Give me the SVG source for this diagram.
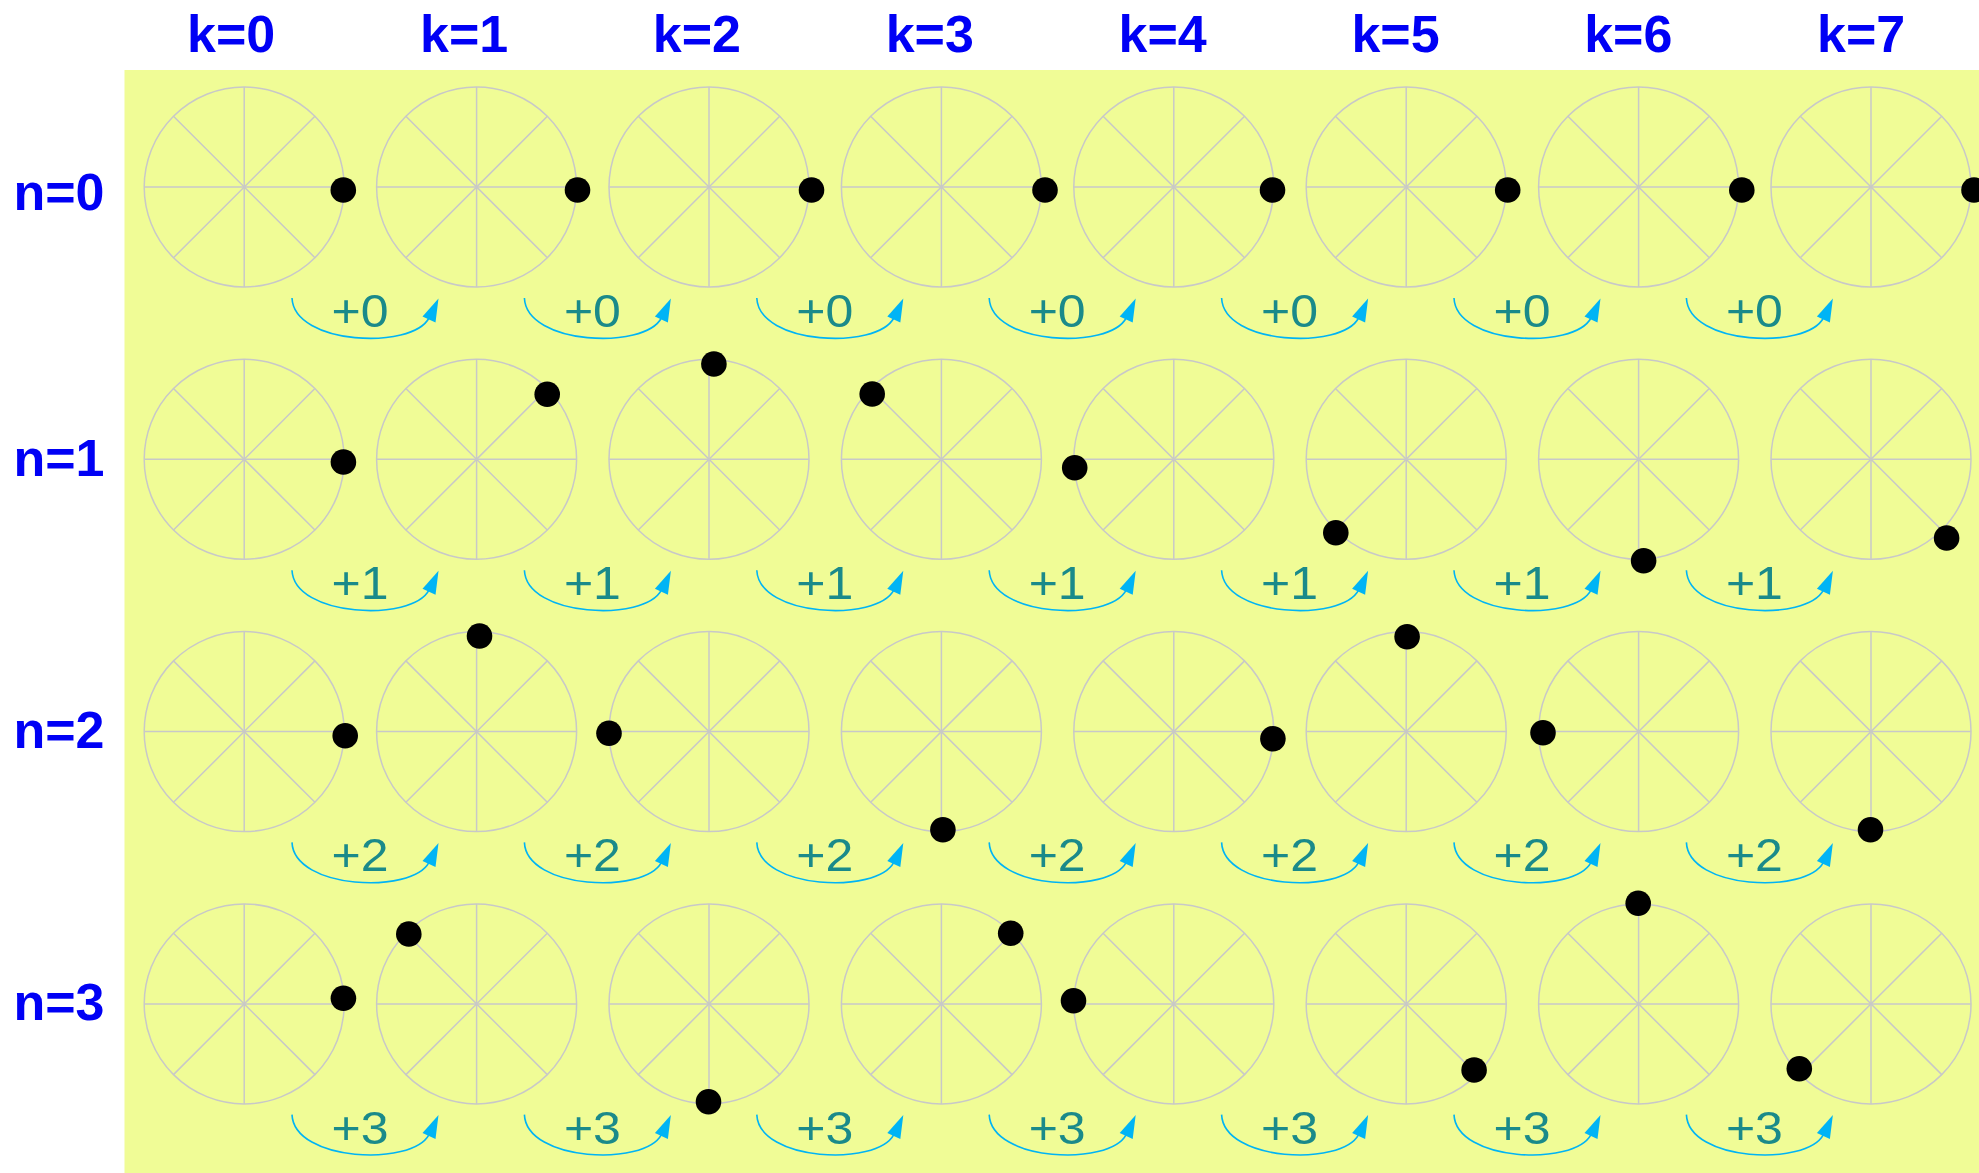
<svg xmlns="http://www.w3.org/2000/svg" width="1979" height="1173" viewBox="0 0 1979 1173">
<style>
.wh{fill:none;stroke:#c8c8c8;stroke-width:1.5}
.dot{fill:#000}
.hd{font-family:"Liberation Sans",Arial,sans-serif;font-weight:bold;font-size:52px;fill:#0000f5}
.st{font-family:"Liberation Sans",Arial,sans-serif;font-size:46.5px;fill:#1a8a8a;text-anchor:middle}
.ac{fill:none;stroke:#00b4f5;stroke-width:1.6}
.ah{fill:#00b4f5}
</style>
<defs>
<g id="wheel" class="wh">
<circle cx="0" cy="0" r="100"/>
<line x1="-100" y1="0" x2="100" y2="0"/>
<line x1="0" y1="-100" x2="0" y2="100"/>
<line x1="-70.71" y1="-70.71" x2="70.71" y2="70.71"/>
<line x1="-70.71" y1="70.71" x2="70.71" y2="-70.71"/>
</g>
<g id="arr">
<path class="ac" d="M292,298 C294,345 412,350 429,318"/>
<polygon class="ah" points="438.5,298.5 422.5,316.5 435.5,322.5"/>
</g>
</defs>
<rect x="124.5" y="70" width="1854.5" height="1103" fill="#f0fc96"/>
<g id="col-labels" class="hd" text-anchor="middle">
<text x="231.2" y="51.5">k=0</text>
<text x="464.1" y="51.5">k=1</text>
<text x="696.9" y="51.5">k=2</text>
<text x="929.8" y="51.5">k=3</text>
<text x="1162.6" y="51.5">k=4</text>
<text x="1395.5" y="51.5">k=5</text>
<text x="1628.3" y="51.5">k=6</text>
<text x="1861.2" y="51.5">k=7</text>
</g>
<g id="row-labels" class="hd" text-anchor="middle">
<text x="59" y="210">n=0</text>
<text x="59" y="476">n=1</text>
<text x="59" y="748">n=2</text>
<text x="59" y="1020">n=3</text>
</g>
<g id="row0">
<g id="c-0-0"><use href="#wheel" x="244.2" y="187"/><circle class="dot" cx="343.3" cy="190" r="12.8"/></g>
<g id="c-0-1"><use href="#wheel" x="476.6" y="187"/><circle class="dot" cx="577.5" cy="190" r="12.8"/></g>
<g id="c-0-2"><use href="#wheel" x="709" y="187"/><circle class="dot" cx="811.5" cy="190" r="12.8"/></g>
<g id="c-0-3"><use href="#wheel" x="941.4" y="187"/><circle class="dot" cx="1045" cy="190" r="12.8"/></g>
<g id="c-0-4"><use href="#wheel" x="1173.8" y="187"/><circle class="dot" cx="1272.5" cy="190" r="12.8"/></g>
<g id="c-0-5"><use href="#wheel" x="1406.2" y="187"/><circle class="dot" cx="1507.7" cy="190" r="12.8"/></g>
<g id="c-0-6"><use href="#wheel" x="1638.6" y="187"/><circle class="dot" cx="1741.8" cy="190" r="12.8"/></g>
<g id="c-0-7"><use href="#wheel" x="1871" y="187"/><circle class="dot" cx="1974" cy="190" r="12.8"/></g>
</g>
<g id="row1">
<g id="c-1-0"><use href="#wheel" x="244.2" y="459.3"/><circle class="dot" cx="343.4" cy="462" r="12.8"/></g>
<g id="c-1-1"><use href="#wheel" x="476.6" y="459.3"/><circle class="dot" cx="547.2" cy="394.3" r="12.8"/></g>
<g id="c-1-2"><use href="#wheel" x="709" y="459.3"/><circle class="dot" cx="713.9" cy="364" r="12.8"/></g>
<g id="c-1-3"><use href="#wheel" x="941.4" y="459.3"/><circle class="dot" cx="872.2" cy="394" r="12.8"/></g>
<g id="c-1-4"><use href="#wheel" x="1173.8" y="459.3"/><circle class="dot" cx="1074.7" cy="467.7" r="12.8"/></g>
<g id="c-1-5"><use href="#wheel" x="1406.2" y="459.3"/><circle class="dot" cx="1335.8" cy="532.7" r="12.8"/></g>
<g id="c-1-6"><use href="#wheel" x="1638.6" y="459.3"/><circle class="dot" cx="1643.6" cy="560.7" r="12.8"/></g>
<g id="c-1-7"><use href="#wheel" x="1871" y="459.3"/><circle class="dot" cx="1946.6" cy="538" r="12.8"/></g>
</g>
<g id="row2">
<g id="c-2-0"><use href="#wheel" x="244.2" y="731.6"/><circle class="dot" cx="345.2" cy="735.7" r="12.8"/></g>
<g id="c-2-1"><use href="#wheel" x="476.6" y="731.6"/><circle class="dot" cx="479.5" cy="636" r="12.8"/></g>
<g id="c-2-2"><use href="#wheel" x="709" y="731.6"/><circle class="dot" cx="609" cy="733.3" r="12.8"/></g>
<g id="c-2-3"><use href="#wheel" x="941.4" y="731.6"/><circle class="dot" cx="942.9" cy="829.7" r="12.8"/></g>
<g id="c-2-4"><use href="#wheel" x="1173.8" y="731.6"/><circle class="dot" cx="1272.9" cy="738.7" r="12.8"/></g>
<g id="c-2-5"><use href="#wheel" x="1406.2" y="731.6"/><circle class="dot" cx="1407.1" cy="636.7" r="12.8"/></g>
<g id="c-2-6"><use href="#wheel" x="1638.6" y="731.6"/><circle class="dot" cx="1543" cy="732.7" r="12.8"/></g>
<g id="c-2-7"><use href="#wheel" x="1871" y="731.6"/><circle class="dot" cx="1870.5" cy="829.7" r="12.8"/></g>
</g>
<g id="row3">
<g id="c-3-0"><use href="#wheel" x="244.2" y="1003.9"/><circle class="dot" cx="343.4" cy="998.3" r="12.8"/></g>
<g id="c-3-1"><use href="#wheel" x="476.6" y="1003.9"/><circle class="dot" cx="408.8" cy="934" r="12.8"/></g>
<g id="c-3-2"><use href="#wheel" x="709" y="1003.9"/><circle class="dot" cx="708.5" cy="1101.7" r="12.8"/></g>
<g id="c-3-3"><use href="#wheel" x="941.4" y="1003.9"/><circle class="dot" cx="1010.7" cy="933.3" r="12.8"/></g>
<g id="c-3-4"><use href="#wheel" x="1173.8" y="1003.9"/><circle class="dot" cx="1073.5" cy="1000.7" r="12.8"/></g>
<g id="c-3-5"><use href="#wheel" x="1406.2" y="1003.9"/><circle class="dot" cx="1474.1" cy="1070" r="12.8"/></g>
<g id="c-3-6"><use href="#wheel" x="1638.6" y="1003.9"/><circle class="dot" cx="1638.2" cy="903.3" r="12.8"/></g>
<g id="c-3-7"><use href="#wheel" x="1871" y="1003.9"/><circle class="dot" cx="1799.3" cy="1068.7" r="12.8"/></g>
</g>
<g id="connectors">
<use href="#arr" x="0" y="0"/><use href="#arr" x="232.4" y="0"/><use href="#arr" x="464.8" y="0"/><use href="#arr" x="697.2" y="0"/><use href="#arr" x="929.6" y="0"/><use href="#arr" x="1162" y="0"/><use href="#arr" x="1394.4" y="0"/>
<use href="#arr" x="0" y="272.2"/><use href="#arr" x="232.4" y="272.2"/><use href="#arr" x="464.8" y="272.2"/><use href="#arr" x="697.2" y="272.2"/><use href="#arr" x="929.6" y="272.2"/><use href="#arr" x="1162" y="272.2"/><use href="#arr" x="1394.4" y="272.2"/>
<use href="#arr" x="0" y="544.4"/><use href="#arr" x="232.4" y="544.4"/><use href="#arr" x="464.8" y="544.4"/><use href="#arr" x="697.2" y="544.4"/><use href="#arr" x="929.6" y="544.4"/><use href="#arr" x="1162" y="544.4"/><use href="#arr" x="1394.4" y="544.4"/>
<use href="#arr" x="0" y="816.6"/><use href="#arr" x="232.4" y="816.6"/><use href="#arr" x="464.8" y="816.6"/><use href="#arr" x="697.2" y="816.6"/><use href="#arr" x="929.6" y="816.6"/><use href="#arr" x="1162" y="816.6"/><use href="#arr" x="1394.4" y="816.6"/>
</g>
<g id="step-labels" class="st">
<text x="360" y="327" textLength="57" lengthAdjust="spacingAndGlyphs">+0</text><text x="592.4" y="327" textLength="57" lengthAdjust="spacingAndGlyphs">+0</text><text x="824.8" y="327" textLength="57" lengthAdjust="spacingAndGlyphs">+0</text><text x="1057.2" y="327" textLength="57" lengthAdjust="spacingAndGlyphs">+0</text><text x="1289.6" y="327" textLength="57" lengthAdjust="spacingAndGlyphs">+0</text><text x="1522" y="327" textLength="57" lengthAdjust="spacingAndGlyphs">+0</text><text x="1754.4" y="327" textLength="57" lengthAdjust="spacingAndGlyphs">+0</text>
<text x="360" y="599.2" textLength="57" lengthAdjust="spacingAndGlyphs">+1</text><text x="592.4" y="599.2" textLength="57" lengthAdjust="spacingAndGlyphs">+1</text><text x="824.8" y="599.2" textLength="57" lengthAdjust="spacingAndGlyphs">+1</text><text x="1057.2" y="599.2" textLength="57" lengthAdjust="spacingAndGlyphs">+1</text><text x="1289.6" y="599.2" textLength="57" lengthAdjust="spacingAndGlyphs">+1</text><text x="1522" y="599.2" textLength="57" lengthAdjust="spacingAndGlyphs">+1</text><text x="1754.4" y="599.2" textLength="57" lengthAdjust="spacingAndGlyphs">+1</text>
<text x="360" y="871.4" textLength="57" lengthAdjust="spacingAndGlyphs">+2</text><text x="592.4" y="871.4" textLength="57" lengthAdjust="spacingAndGlyphs">+2</text><text x="824.8" y="871.4" textLength="57" lengthAdjust="spacingAndGlyphs">+2</text><text x="1057.2" y="871.4" textLength="57" lengthAdjust="spacingAndGlyphs">+2</text><text x="1289.6" y="871.4" textLength="57" lengthAdjust="spacingAndGlyphs">+2</text><text x="1522" y="871.4" textLength="57" lengthAdjust="spacingAndGlyphs">+2</text><text x="1754.4" y="871.4" textLength="57" lengthAdjust="spacingAndGlyphs">+2</text>
<text x="360" y="1143.6" textLength="57" lengthAdjust="spacingAndGlyphs">+3</text><text x="592.4" y="1143.6" textLength="57" lengthAdjust="spacingAndGlyphs">+3</text><text x="824.8" y="1143.6" textLength="57" lengthAdjust="spacingAndGlyphs">+3</text><text x="1057.2" y="1143.6" textLength="57" lengthAdjust="spacingAndGlyphs">+3</text><text x="1289.6" y="1143.6" textLength="57" lengthAdjust="spacingAndGlyphs">+3</text><text x="1522" y="1143.6" textLength="57" lengthAdjust="spacingAndGlyphs">+3</text><text x="1754.4" y="1143.6" textLength="57" lengthAdjust="spacingAndGlyphs">+3</text>
</g>
</svg>
